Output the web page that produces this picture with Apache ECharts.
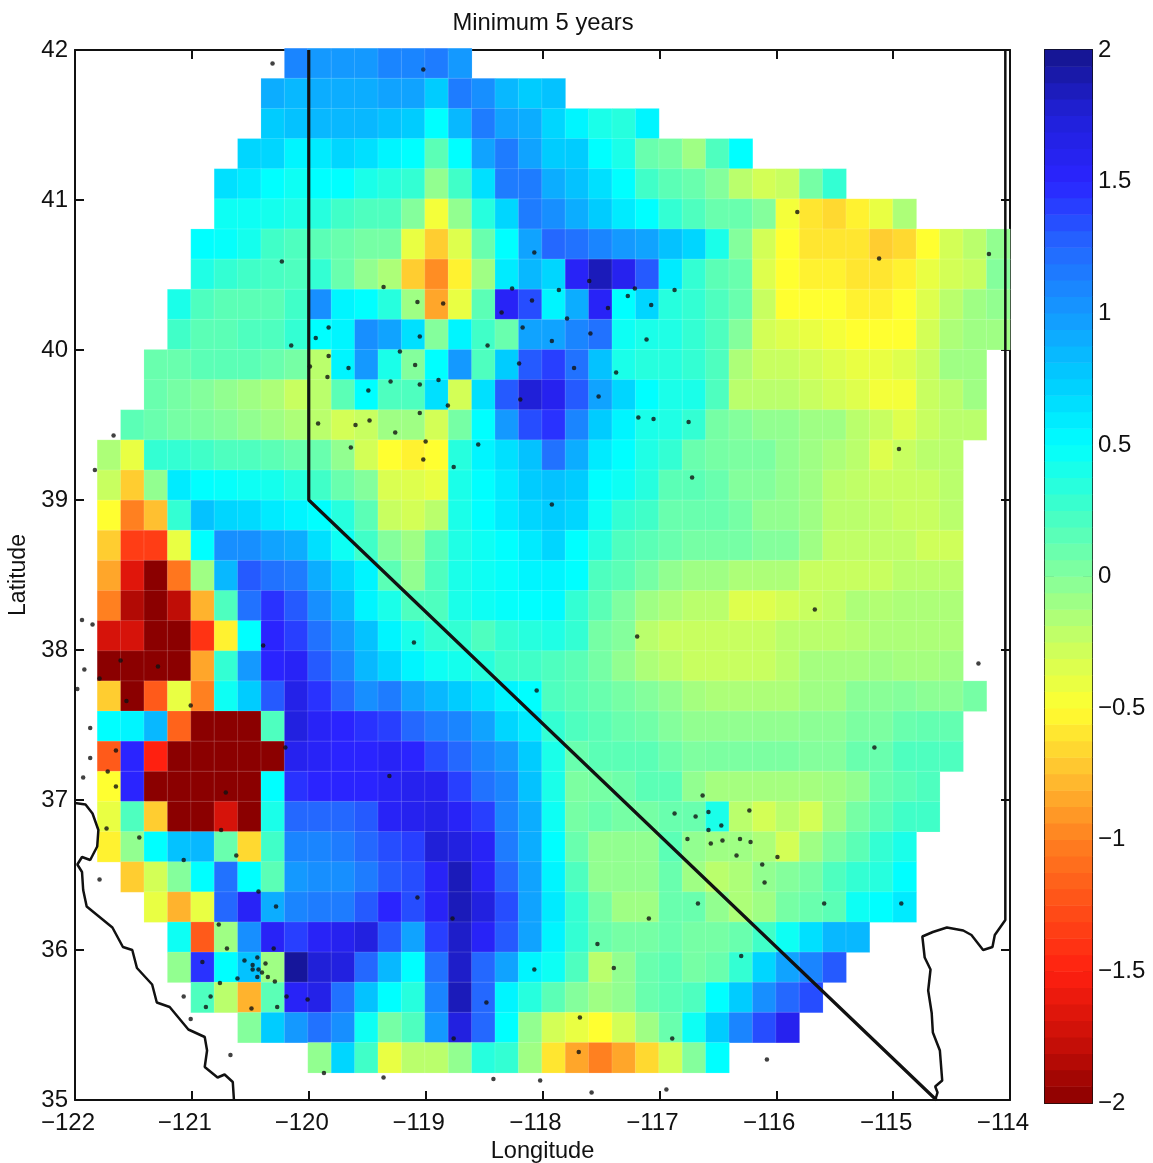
<!DOCTYPE html>
<html><head><meta charset="utf-8">
<style>html,body{margin:0;padding:0;background:#fff}#c{width:1153px;height:1163px}</style>
<script src="https://cdn.jsdelivr.net/npm/echarts@6/dist/echarts.min.js"></script>
</head><body><div id="c"></div>
<script>
const title = 'Minimum 5 years';
const lonLabel = 'Longitude', latLabel = 'Latitude';
const colormap = ['#8b0000','#cc1008','#ff2010','#ff5018','#ff8020','#ffc030','#ffff30','#c8ff60','#84ff9c','#40ffc8','#00ffff','#00ccff','#1499ff','#2468ff','#2a24ff','#2020d8','#14148c'];
// first occupied column of every row (0.2 degree columns from 122W), north to south
const rowStart = [9,8,8,7,6,6,5,5,4,4,3,3,2,1,1,1,1,1,1,1,1,1,1,1,1,1,1,2,3,4,4,5,7,10];
const rows = [
[1.1,1,1,1,1.1,1.1,1.15,1],
[.9,.85,.9,.9,.9,.95,.95,.75,1.15,1.05,.85,.75,.8],
[.75,.8,.85,.85,.85,.8,.75,.5,.85,1.15,.95,.9,.7,.55,.4,.35,.55],
[.7,.7,.55,.6,.7,.65,.55,.5,.15,.5,.95,1.15,.95,.75,.75,.5,.4,.1,.05,-.1,.2,.5],
[.65,.6,.5,.45,.5,.5,.4,.35,.3,-.05,.25,.65,1.15,1.15,.9,.8,.65,.5,.25,.15,.1,0,-.2,-.3,-.25,.05,.3],
[.45,.45,.42,.38,.35,.25,.2,.2,0,-.45,-.05,.35,.7,1.15,1.05,.9,.75,.6,.5,.3,.2,.1,.1,0,-.45,-.6,-.65,-.55,-.4,-.15],
[.5,.48,.42,.25,.2,.15,.1,.05,.05,-.4,-.7,-.35,.1,.5,.95,1.25,1.2,1.1,1,.95,.8,.7,.4,0,-.3,-.5,-.6,-.6,-.6,-.7,-.65,-.5,-.3,-.2,-.05],
[.38,.3,.25,.22,.2,.3,.1,-.05,-.15,-.7,-.95,-.55,-.1,.6,.85,.7,1.55,1.85,1.6,1.3,.6,.3,.15,.1,-.35,-.5,-.55,-.55,-.6,-.6,-.55,-.4,-.3,-.25,0],
[.4,.2,.15,.15,.15,.25,1.05,.55,.5,.35,-.1,-.85,-.4,.15,1.55,1.35,.55,.9,1.55,.5,.7,.35,.3,.2,.1,-.25,-.5,-.5,-.5,-.55,-.55,-.5,-.35,-.2,-.1,-.05],
[.25,.15,.15,.2,.2,.3,.5,.55,1.05,.95,.65,0,.55,.25,.1,.95,.95,1.1,1.2,.45,.4,.38,.3,.2,0,-.3,-.35,-.4,-.45,-.5,-.5,-.5,-.3,-.15,-.1,-.1],
[.1,.1,.15,.15,.15,.1,.05,-.2,.55,1,.4,0,.5,1,.2,.75,1.3,1.4,1.2,.8,.4,.35,.35,.3,.2,-.15,-.25,-.25,-.3,-.35,-.4,-.4,-.35,-.25,-.1,-.1],
[.1,.05,0,-.05,-.1,-.15,-.25,-.2,.15,.5,.2,.2,.65,-.3,.65,1.3,1.75,1.6,1.3,.95,.7,.5,.4,.4,.2,-.2,-.2,-.2,-.25,-.3,-.35,-.45,-.45,-.25,-.2,-.1],
[.15,.1,.05,.03,0,-.05,-.1,-.15,-.2,-.3,-.25,-.1,-.1,-.3,.05,.5,1,1.35,1.45,1.1,.75,.55,.4,.38,.3,.05,0,-.05,-.05,-.1,-.1,-.2,-.25,-.35,-.25,-.2,-.2],
[-.15,-.4,.3,.3,.25,.2,.2,.15,.1,.1,-.05,-.3,-.5,-.55,-.5,.35,.55,.65,.8,1.2,.9,.6,.5,.38,.3,.1,.05,.03,.03,-.05,-.1,-.15,-.2,-.35,-.25,-.2,-.2],
[-.25,-.7,-.05,.6,.5,.48,.45,.42,.35,.25,.1,0,-.33,-.35,-.4,.4,.5,.6,.75,.8,.75,.5,.45,.35,.15,.15,.1,0,0,-.05,-.1,-.2,-.22,-.25,-.25,-.25,-.2],
[-.5,-1,-.75,.3,.8,.7,.68,.6,.55,.5,.35,.15,-.25,-.3,-.2,.4,.5,.6,.7,.75,.7,.45,.3,.25,.1,.1,.1,.05,-.05,-.05,-.1,-.2,-.2,-.22,-.25,-.25,-.2],
[-.7,-1.35,-1.35,-.4,.5,1.05,1.05,.95,.9,.65,.45,.25,0,-.1,.15,.38,.45,.5,.6,.7,.5,.35,.2,.15,.1,.05,.05,.05,0,0,-.1,-.22,-.22,-.22,-.22,-.28,-.28,-.2].slice(0,37),
[-.85,-1.65,-2,-1.05,-.1,.85,1.3,1.2,1.15,.9,.7,.55,.15,-.05,.2,.4,.45,.48,.55,.55,.5,.2,.15,.05,-.05,-.1,-.1,-.15,-.15,-.15,-.25,-.25,-.25,-.25,-.2,-.2,-.2],
[-1,-1.85,-2,-1.8,-.8,.2,1.2,1.45,1.3,1.05,.85,.55,.4,.2,.2,.4,.45,.48,.5,.52,.3,.15,.02,-.1,-.15,-.2,-.2,-.35,-.35,-.3,-.25,-.22,-.15,-.17,-.15,-.15,-.15],
[-1.7,-1.7,-2,-2,-1.4,-.55,.5,1.5,1.4,1.2,1,.8,.55,.4,.3,.3,.2,.3,.35,.38,.3,.05,0,-.2,-.25,-.25,-.25,-.25,-.25,-.2,-.2,-.2,-.18,-.15,-.15,-.15,-.15],
[-2,-2,-2,-2,-.85,.3,1,1.5,1.55,1.3,1.1,.85,.7,.55,.45,.42,.35,.25,.25,.2,.15,.05,-.05,-.15,-.2,-.25,-.25,-.25,-.25,-.2,-.12,-.12,-.12,-.1,-.12,-.12,-.1],
[-.7,-2,-1.2,-.4,-1,.45,.75,1.3,1.65,1.45,1.25,1.05,1.15,.95,.85,.75,.65,.55,.5,.2,.15,.1,.05,0,-.05,-.12,-.15,-.15,-.15,-.15,-.1,-.1,-.02,-.02,0,-.03,-.03,.05].slice(0,38),
[.5,.55,.85,-1.15,-2,-2,-2,.2,1.7,1.55,1.5,1.45,1.4,1.25,1.15,1.1,.95,.7,.6,.3,.2,.15,.1,.07,0,-.05,-.05,-.05,-.05,-.05,-.03,-.03,.03,.03,.1,.12,.12],
[-1.2,1.5,-1.5,-2,-2,-2,-2,-2,1.6,1.55,1.5,1.5,1.55,1.5,1.35,1.25,1.1,1,.75,.4,.1,.15,.15,.15,.08,.02,.03,.03,.03,.03,0,0,.1,.1,.2,.2,.2],
[-.5,1.5,-2,-2,-2,-2,-2,.5,1.45,1.5,1.5,1.5,1.55,1.6,1.6,1.4,1.2,1.1,.8,.4,.03,.05,.08,.15,.15,-.05,-.12,-.12,-.12,-.12,-.12,-.1,-.05,.1,.15,.2],
[-.4,.2,-.7,-2,-2,-1.7,-2,.4,1.25,1.25,1.25,1.3,1.55,1.6,1.65,1.55,1.4,1.1,.9,.45,.05,.1,.05,.05,.1,.1,.4,-.2,-.3,-.2,-.3,-.1,.05,.15,.25,.25],
[-.55,-.05,.5,.8,.85,.1,-.65,.25,1.1,1.1,1.15,1.25,1.35,1.4,1.75,1.7,1.55,1.15,.9,.5,.1,-.05,-.05,-.05,.15,-.05,-.1,-.1,-.15,-.3,-.1,.03,.15,.3,.4],
[-.7,-.3,0,.5,1.2,.5,.15,1,1.05,1.05,1.15,1.3,1.35,1.55,1.85,1.55,1.25,.95,.55,.2,-.05,-.05,-.05,.1,-.1,-.2,-.15,-.05,0,.05,.2,.3,.35,.5],
[-.4,-.8,-.4,1.25,1.55,.9,1.1,1.15,1.15,1.3,1.5,1.35,1.55,1.85,1.7,1.35,.95,.6,.3,.05,-.1,-.1,.1,.1,-.05,-.15,-.1,.05,.1,.15,.45,.5,.6],
[.45,-1.2,-.1,1.05,1.55,1.4,1.55,1.6,1.7,1.3,.95,1.4,1.8,1.55,1.3,.95,.55,.3,.1,.05,.05,.1,.05,.05,.1,.25,.45,.65,.85,.85],
[-.05,1.45,.5,.8,-.1,1.95,1.75,1.7,1.25,.85,.5,1.2,1.8,1.25,.95,.55,.45,.2,-.2,-.05,.1,.15,.05,.1,.3,.7,.95,1.1,1.3],
[.2,-.2,-.8,.15,1.55,1.65,1.2,.8,.5,.35,1.1,1.85,1.25,.55,.35,.15,0,-.1,-.05,.1,.15,.2,.5,.75,1.05,1.25,1.35],
[0,.75,1,1.2,1.05,.45,.05,.2,1,1.7,1.25,.5,-.05,-.3,-.4,-.5,-.3,-.1,.1,.45,.75,1.1,1.35,1.6],
[-.05,.7,.25,-.4,-.2,-.2,-.05,.35,.3,-.1,-.6,-.85,-1,-.85,-.65,-.3,0,.5]
];
const stationLon = [-120.31,-119.02,-115.82,-115.12,-114.18,-120.23,-118.07,-117.6,-119.36,-118.26,-117.86,-117.21,-117.27,-116.87,-119.07,-118.85,-118.09,-118.35,-117.44,-117.07,-117.79,-118.17,-117.59,-119.05,-117.92,-117.11,-119.22,-118.47,-119.09,-118.2,-117.73,-117.37,-119.3,-119.05,-118.89,-118.19,-117.52,-119.83,-119.94,-120.15,-119.83,-119.66,-119.99,-119.84,-119.49,-121.67,-121.83,-119.92,-119.6,-119.48,-119.64,-121.94,-121.85,-120.39,-121.61,-121.29,-121.92,-121.79,-121.98,-121.56,-121.01,-121.87,-121.65,-120.2,-121.87,-118.81,-119.05,-117.18,-117.05,-116.75,-119.26,-119,-118.55,-119.02,-118.76,-116.72,-117.92,-117.19,-119.1,-118.05,-114.95,-115.67,-114.27,-115.16,-121.72,-121.93,-121.65,-120.71,-120.75,-121.73,-121.45,-120.62,-121.07,-121.79,-120.43,-120.28,-120.77,-120.7,-120.3,-120.91,-120.55,-120.44,-120.37,-120.48,-120.48,-120.43,-120.4,-120.61,-120.44,-120.35,-120.29,-120.76,-120.19,-120.01,-120.84,-121.07,-120.88,-120.49,-120.27,-121.01,-120.67,-119.87,-119.36,-119.31,-116.87,-116.69,-116.76,-116.67,-119.07,-118.77,-117.09,-117.53,-117.39,-118.07,-118.48,-117.68,-116.89,-118.76,-117.69,-118.42,-118.02,-117.58,-116.94,-116.63,-116.58,-116.23,-116.58,-116.47,-116.56,-116.46,-116.31,-116.22,-116.34,-115.99,-116.12,-116.1,-115.59,-114.93,-116.3,-116.08];
const stationLat = [41.91,41.87,40.92,40.61,40.64,40.59,40.65,40.46,40.42,40.41,40.4,40.41,40.36,40.4,40.32,40.31,40.33,40.25,40.28,40.3,40.21,40.15,40.11,40.09,40.06,40.07,39.99,40.03,39.9,39.91,39.88,39.85,39.79,39.77,39.8,39.67,39.69,40.15,40.08,40.03,39.96,39.88,39.89,39.82,39.73,39.43,39.2,39.51,39.5,39.53,39.35,38.2,38.17,38.03,37.93,37.89,37.87,37.81,37.74,37.66,37.63,37.48,37.33,37.35,37.28,39.63,39.58,39.55,39.54,39.52,39.45,39.39,39.37,39.27,39.22,39.15,38.97,38.09,38.05,37.73,39.34,38.27,37.91,37.35,37.19,37.15,37.09,37.05,36.8,36.81,36.75,36.63,36.6,36.47,36.39,36.29,36.17,36.01,36.01,35.92,35.93,35.95,35.91,35.9,35.87,35.87,35.85,35.81,35.82,35.82,35.79,35.78,35.69,35.67,35.69,35.69,35.62,35.61,35.62,35.54,35.3,35.18,35.15,37.16,36.91,36.89,36.74,36.31,36.35,36.21,36.21,36.04,35.88,35.87,35.65,35.55,35.41,35.41,35.32,35.14,35.13,35.05,35.07,37.03,36.92,36.93,36.8,36.83,36.71,36.73,36.74,36.72,36.63,36.62,36.57,36.45,36.31,36.31,35.96,35.27];
const stateLine = [[-120,42],[-120,39],[-114.63,35]];
const coastLine = [[-122,36.98],[-121.91,36.97],[-121.85,36.91],[-121.8,36.8],[-121.81,36.69],[-121.87,36.6],[-121.94,36.62],[-121.98,36.57],[-121.94,36.52],[-121.93,36.4],[-121.9,36.29],[-121.79,36.22],[-121.68,36.15],[-121.59,36.02],[-121.51,36],[-121.47,35.88],[-121.34,35.77],[-121.3,35.65],[-121.19,35.62],[-121.03,35.47],[-120.89,35.42],[-120.87,35.33],[-120.89,35.22],[-120.78,35.15],[-120.72,35.17],[-120.65,35.12],[-120.64,35]];
const riverLine = [[-114.04,42],[-114.04,36.2],[-114.13,36.1],[-114.15,36.02],[-114.23,36],[-114.28,36.05],[-114.33,36.1],[-114.4,36.13],[-114.54,36.15],[-114.66,36.12],[-114.75,36.09],[-114.73,35.95],[-114.68,35.87],[-114.7,35.73],[-114.67,35.58],[-114.66,35.45],[-114.6,35.33],[-114.58,35.13],[-114.64,35.09],[-114.62,35.05],[-114.64,35]];

const COLS = 40, NROWS = rows.length, LEVELS = 64;
const xCats = Array.from({length:COLS},(_,i)=>i), yCats = Array.from({length:NROWS},(_,i)=>i);
const heat = [];
rows.forEach((r,ri)=>r.forEach((v,i)=>heat.push([rowStart[ri]+i, ri, v])));
const levelCats = Array.from({length:LEVELS},(_,i)=>i);
const barCells = levelCats.map(i=>[0,i,-2+4*(i+0.5)/LEVELS]);
const stations = stationLon.map((x,i)=>[x,stationLat[i]]);

const FONT='"Liberation Sans", Arial, sans-serif';
const minus = v => String(v).replace('-','\u2212');
const chart = echarts.init(document.getElementById('c'),null,{renderer:'canvas'});
const labelAxis = {axisLine:{show:true,onZero:false,lineStyle:{color:'#111',width:2}},axisTick:{show:true,inside:true,length:9,lineStyle:{color:'#111',width:2}},splitLine:{show:false}};
const mapX = {type:'value',min:-122,max:-114,interval:1,...labelAxis};
const mapY = {type:'value',min:35,max:42,interval:1,...labelAxis};
const barFrame = {type:'value',gridIndex:2,min:0,max:1,axisLine:{show:true,onZero:false,lineStyle:{color:'#111',width:2}},axisTick:{show:false},axisLabel:{show:false},splitLine:{show:false}};
const line = (data,width,color)=>({type:'line',xAxisIndex:3,yAxisIndex:3,data,symbol:'none',silent:true,z:5,lineStyle:{color:color||'#111',width}});
const noBounds = {outerBoundsMode:'none',containLabel:false};
chart.setOption({
  animation:false,
  title:{text:title,left:538,top:6,textAlign:'center',textStyle:{fontFamily:FONT,fontSize:23.8,fontWeight:'normal',color:'#111'}},
  grid:[
    {left:74,top:48.4,width:936,height:1024.4,...noBounds},
    {left:1045,top:50,width:47,height:1053,...noBounds},
    {left:1045,top:50,width:47,height:1053,...noBounds},
    {left:75,top:50,width:935,height:1050,...noBounds}
  ],
  xAxis:[
    {type:'category',gridIndex:0,data:xCats,show:false},
    {type:'category',gridIndex:1,data:[0],show:false},
    {...barFrame,position:'bottom'},
    {...mapX,gridIndex:3,position:'bottom',name:lonLabel,nameLocation:'middle',nameGap:39,nameTextStyle:{fontFamily:FONT,fontSize:23.6,color:'#111'},
      axisLabel:{margin:11,padding:[0,14,0,0],fontFamily:FONT,fontSize:24,color:'#111',formatter:minus}},
    {...mapX,gridIndex:3,position:'top',axisLabel:{show:false}},
    {...barFrame,position:'top'}
  ],
  yAxis:[
    {type:'category',gridIndex:0,data:yCats,inverse:true,show:false},
    {type:'category',gridIndex:1,data:levelCats,show:false},
    {type:'value',gridIndex:2,min:-2,max:2,interval:0.5,position:'right',...labelAxis,
      axisLabel:{margin:6,fontFamily:FONT,fontSize:24,color:'#111',formatter:minus}},
    {...mapY,gridIndex:3,position:'left',name:latLabel,nameLocation:'middle',nameGap:45,nameTextStyle:{fontFamily:FONT,fontSize:23,color:'#111'},
      axisLabel:{margin:7,fontFamily:FONT,fontSize:24,color:'#111'}},
    {...mapY,gridIndex:3,position:'right',axisLabel:{show:false}},
    {type:'value',gridIndex:2,min:-2,max:2,interval:0.5,position:'left',...labelAxis,axisLabel:{show:false}}
  ],
  visualMap:{show:false,type:'continuous',min:-2,max:2,seriesIndex:[0,1],dimension:2,inRange:{color:colormap}},
  series:[
    {type:'heatmap',xAxisIndex:0,yAxisIndex:0,data:heat,silent:true,progressive:0,z:1,itemStyle:{borderColor:'rgba(255,255,255,0.14)',borderWidth:1},emphasis:{disabled:true}},
    {type:'heatmap',xAxisIndex:1,yAxisIndex:1,data:barCells,silent:true,progressive:0,z:1,emphasis:{disabled:true}},
    line(coastLine,2.5),
    line(riverLine,2.5),
    line(stateLine,3.2),
    {type:'scatter',xAxisIndex:3,yAxisIndex:3,data:stations,symbol:'circle',symbolSize:4.5,silent:true,z:6,itemStyle:{color:'#111'}}
  ]
});
</script></body></html>
